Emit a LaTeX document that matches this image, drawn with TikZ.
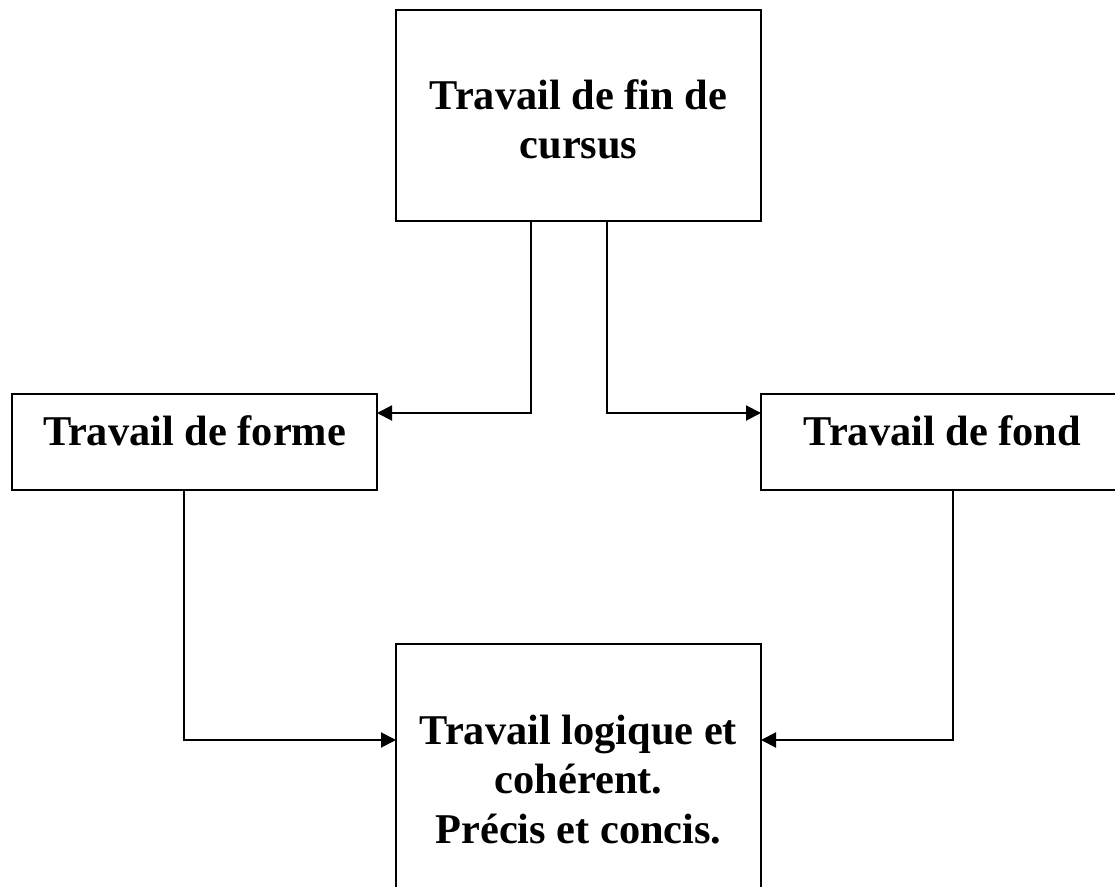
\documentclass[tikz,border=0pt]{standalone}
\usepackage{fontspec}
\setmainfont{Liberation Serif}
\usetikzlibrary{arrows.meta,calc}
\begin{document}
\begin{tikzpicture}[x=0.5pt,y=-0.5pt,
  box/.style={draw=black,line width=1pt,fill=white,inner sep=0pt,outer sep=0pt,
    minimum width=182.5pt},
  txt/.style={inner sep=0pt,anchor=base,align=center,
    font=\fontsize{21.2pt}{24.75pt}\selectfont\bfseries},
  conn/.style={draw=black,line width=1pt,-{Triangle[length=7.5pt,width=7.5pt]}}]
\useasboundingbox (0,0) rectangle (1115,887);
\clip (0,0) rectangle (1115,887);
\node[box,minimum height=105.5pt] (top) at (578.5,115.5) {};
\node[box,minimum height=48pt] (left) at (194.5,442) {};
\node[box,minimum height=48pt] (right) at (943.5,442) {};
\node[box,minimum height=136pt] (bot) at (578.5,780) {};
\node[txt] (toptxt) at (578.5,159) {Travail de fin de\\cursus};
\node[txt] (lefttxt) at (194.5,446) {Travail de forme};
\node[txt] (righttxt) at (942.5,446) {Travail de fond};
\node[txt] (bottxt) at (578.5,843) {Travail logique et\\coh\'erent.\\Pr\'ecis et concis.};
\draw[conn] ($(top.south)+(-47.5,0)$) |- ($(left.east)+(0,-29)$);
\draw[conn] ($(top.south)+(28.5,0)$) |- ($(right.west)+(0,-29)$);
\draw[conn] ($(left.south)+(-10.5,0)$) |- ($(bot.west)+(0,-40)$);
\draw[conn] ($(right.south)+(9.5,0)$) |- ($(bot.east)+(0,-40)$);
\end{tikzpicture}
\end{document}
